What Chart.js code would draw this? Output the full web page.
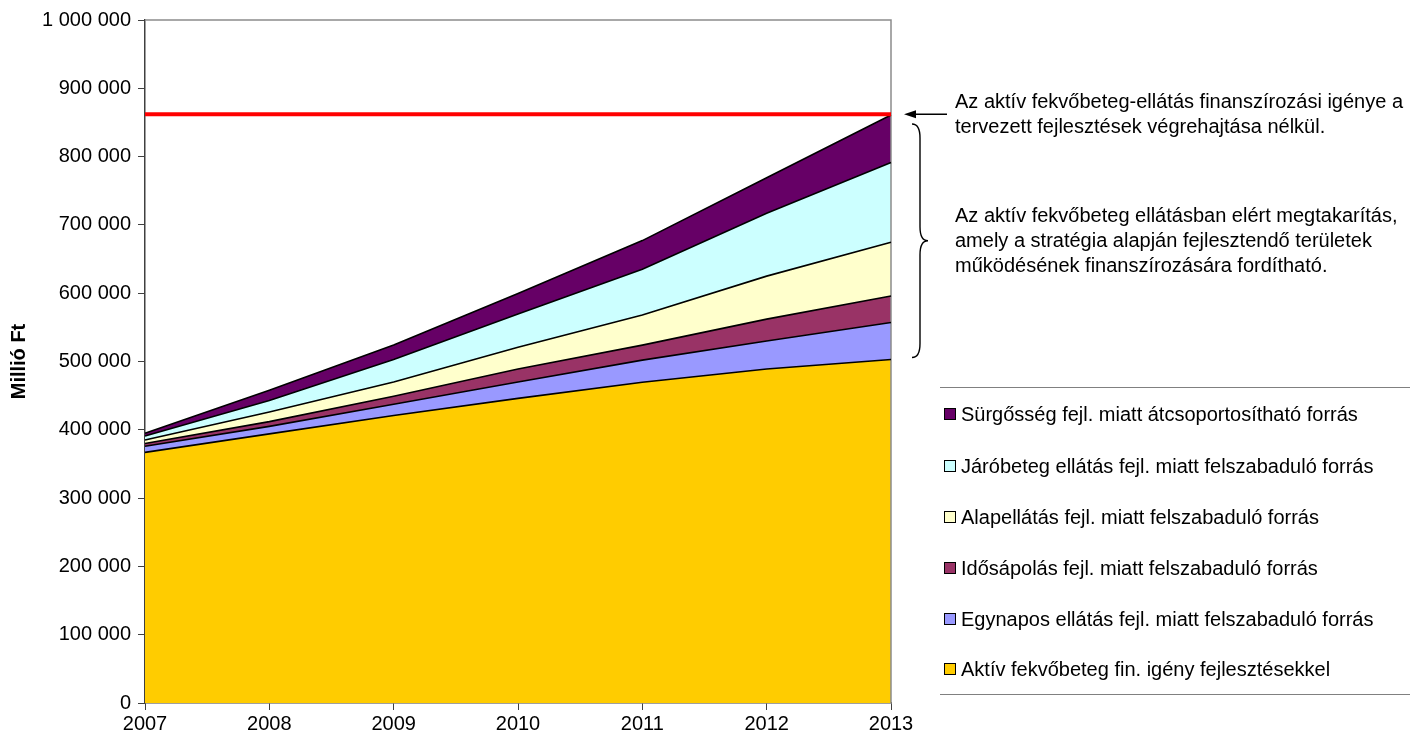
<!DOCTYPE html>
<html>
<head>
<meta charset="utf-8">
<script src="https://cdn.jsdelivr.net/npm/chart.js@4/dist/chart.umd.min.js"></script>
<style>
html,body{margin:0;padding:0;background:#fff;}
#wrap{position:relative;width:1410px;height:740px;font-family:"Liberation Sans",Arial,sans-serif;color:#000;overflow:hidden;}
#c{position:absolute;left:0;top:0;}
.note{position:absolute;left:955px;font-size:20px;line-height:25px;white-space:nowrap;}
#legend{position:absolute;left:940px;top:387px;width:470px;height:306px;border-top:1.5px solid #808080;border-bottom:1.5px solid #808080;}
.item{position:absolute;left:4px;height:24px;font-size:20px;line-height:24px;white-space:nowrap;display:flex;align-items:center;}
.box{width:10px;height:10px;border:1px solid #000;margin-right:5px;flex:none;}
</style>
</head>
<body>
<div id="wrap">
  <canvas id="c" width="1410" height="740"></canvas>
  <div class="note" style="top:89px;">Az aktív fekvőbeteg-ellátás finanszírozási igénye a<br>tervezett fejlesztések végrehajtása nélkül.</div>
  <div class="note" style="top:203px;">Az aktív fekvőbeteg ellátásban elért megtakarítás,<br>amely a stratégia alapján fejlesztendő területek<br>működésének finanszírozására fordítható.</div>
  <div id="legend"></div>
</div>
<script>
// ---- data (Millió Ft) ----
const years = ['2007', '2008', '2009', '2010', '2011', '2012', '2013'];
const aktivFejl = [367000, 394000, 421000, 446000, 469500, 489000, 503000];
const egynapos = [9000, 11000, 16500, 24000, 32500, 41000, 54000];
const idosapolas = [4000, 7000, 11500, 19000, 22000, 32000, 39000];
const alapellatas = [5000, 14000, 21000, 32000, 44000, 63000, 78500];
const jarobeteg = [6000, 17000, 33000, 48500, 67000, 92000, 117000];
const surgosseg = [4000, 15000, 21000, 30000, 42000, 52000, 69500];
const fejlNelkul = [862000, 862000, 862000, 862000, 862000, 862000, 862000];

const seriesNames = [
  'Aktív fekvőbeteg fin. igény fejlesztésekkel',
  'Egynapos ellátás fejl. miatt felszabaduló forrás',
  'Idősápolás fejl. miatt felszabaduló forrás',
  'Alapellátás fejl. miatt felszabaduló forrás',
  'Járóbeteg ellátás fejl. miatt felszabaduló forrás',
  'Sürgősség fejl. miatt átcsoportosítható forrás'
];
const seriesData = [aktivFejl, egynapos, idosapolas, alapellatas, jarobeteg, surgosseg];
const seriesColors = ['#FFCC00', '#9999FF', '#993366', '#FFFFCC', '#CCFFFF', '#660066'];

const FONT = '"Liberation Sans", Arial, sans-serif';

const datasets = seriesData.map((d, i) => ({
  label: seriesNames[i],
  data: d,
  stack: 'main',
  backgroundColor: seriesColors[i],
  borderColor: '#000',
  borderWidth: 1.6,
  pointRadius: 0,
  tension: 0,
  fill: i === 0 ? 'origin' : '-1'
}));
datasets.push({
  label: 'fejlesztések nélkül',
  data: fejlNelkul,
  stack: 'ref',
  borderColor: '#FF0000',
  borderWidth: 4,
  pointRadius: 0,
  fill: false,
  order: -1
});

function fmt(v) { return String(v).replace(/\B(?=(\d{3})+(?!\d))/g, ' '); }

const frame = {
  id: 'frame',
  beforeDatasetsDraw(chart) {
    const {ctx, chartArea: a} = chart;
    ctx.save();
    ctx.strokeStyle = '#8c8c8c';
    ctx.lineWidth = 1.5;
    ctx.beginPath();
    ctx.moveTo(a.left, a.top);
    ctx.lineTo(a.right, a.top);
    ctx.lineTo(a.right, a.bottom);
    ctx.stroke();
    ctx.restore();
  },
  afterDraw(chart) {
    const {ctx, chartArea: a, scales} = chart;
    const y = scales.y;
    const last = years.length - 1;
    // arrow pointing at the red line
    const yr = y.getPixelForValue(fejlNelkul[last]);
    ctx.save();
    ctx.strokeStyle = '#000';
    ctx.fillStyle = '#000';
    ctx.lineWidth = 1.5;
    ctx.beginPath();
    ctx.moveTo(a.right + 56, yr);
    ctx.lineTo(a.right + 22, yr);
    ctx.stroke();
    ctx.beginPath();
    ctx.moveTo(a.right + 13, yr);
    ctx.lineTo(a.right + 25, yr - 4);
    ctx.lineTo(a.right + 25, yr + 4);
    ctx.closePath();
    ctx.fill();
    // brace covering the savings
    let total = 0;
    seriesData.forEach(d => total += d[last]);
    const yT = y.getPixelForValue(total) + 9;
    const yB = y.getPixelForValue(aktivFejl[last]) - 2;
    const yM = (yT + yB) / 2;
    const x0 = a.right + 21, x1 = a.right + 29, x2 = a.right + 37;
    ctx.lineWidth = 1.4;
    ctx.beginPath();
    ctx.moveTo(x0, yT);
    ctx.quadraticCurveTo(x1, yT, x1, yT + 14);
    ctx.lineTo(x1, yM - 14);
    ctx.quadraticCurveTo(x1, yM, x2, yM);
    ctx.quadraticCurveTo(x1, yM, x1, yM + 14);
    ctx.lineTo(x1, yB - 14);
    ctx.quadraticCurveTo(x1, yB, x0, yB);
    ctx.stroke();
    ctx.restore();
  }
};

const chart = new Chart(document.getElementById('c'), {
  type: 'line',
  data: { labels: years, datasets },
  options: {
    responsive: false,
    animation: false,
    devicePixelRatio: 1,
    layout: { padding: { left: 0, top: 20, right: 519, bottom: 0 } },
    plugins: {
      legend: { display: false },
      tooltip: { enabled: false },
      filler: { drawTime: 'beforeDatasetsDraw' }
    },
    scales: {
      x: {
        offset: false,
        grid: { display: true, drawOnChartArea: false, drawTicks: true, tickLength: 7, color: '#404040', lineWidth: 1 },
        border: { display: true, color: '#404040', width: 1.5 },
        ticks: { font: { family: FONT, size: 20 }, color: '#000', padding: 2, maxRotation: 0, autoSkip: false },
        afterFit: s => { s.height = 37; }
      },
      y: {
        stacked: true,
        min: 0,
        max: 1000000,
        grid: { display: true, drawOnChartArea: false, drawTicks: true, tickLength: 7, color: '#404040', lineWidth: 1 },
        border: { display: true, color: '#404040', width: 1.5 },
        ticks: { stepSize: 100000, font: { family: FONT, size: 20 }, color: '#000', padding: 7, callback: v => fmt(v) },
        title: { display: true, text: 'Millió Ft', color: '#000', font: { family: '"Liberation Sans Narrow", "Liberation Sans", Arial, sans-serif', size: 20, weight: 'bold' }, padding: { top: 7, bottom: 0 } },
        afterFit: s => { s.width = 145; }
      }
    }
  },
  plugins: [frame]
});

// legend (reverse order, like the original)
const leg = document.getElementById('legend');
const centers = [26, 78, 129, 180, 231, 281];
for (let k = 0; k < seriesNames.length; k++) {
  const i = seriesNames.length - 1 - k;
  const it = document.createElement('div');
  it.className = 'item';
  it.style.top = (centers[k] - 12) + 'px';
  const b = document.createElement('span');
  b.className = 'box';
  b.style.background = seriesColors[i];
  const t = document.createElement('span');
  t.textContent = seriesNames[i];
  it.appendChild(b);
  it.appendChild(t);
  leg.appendChild(it);
}
</script>
</body>
</html>
